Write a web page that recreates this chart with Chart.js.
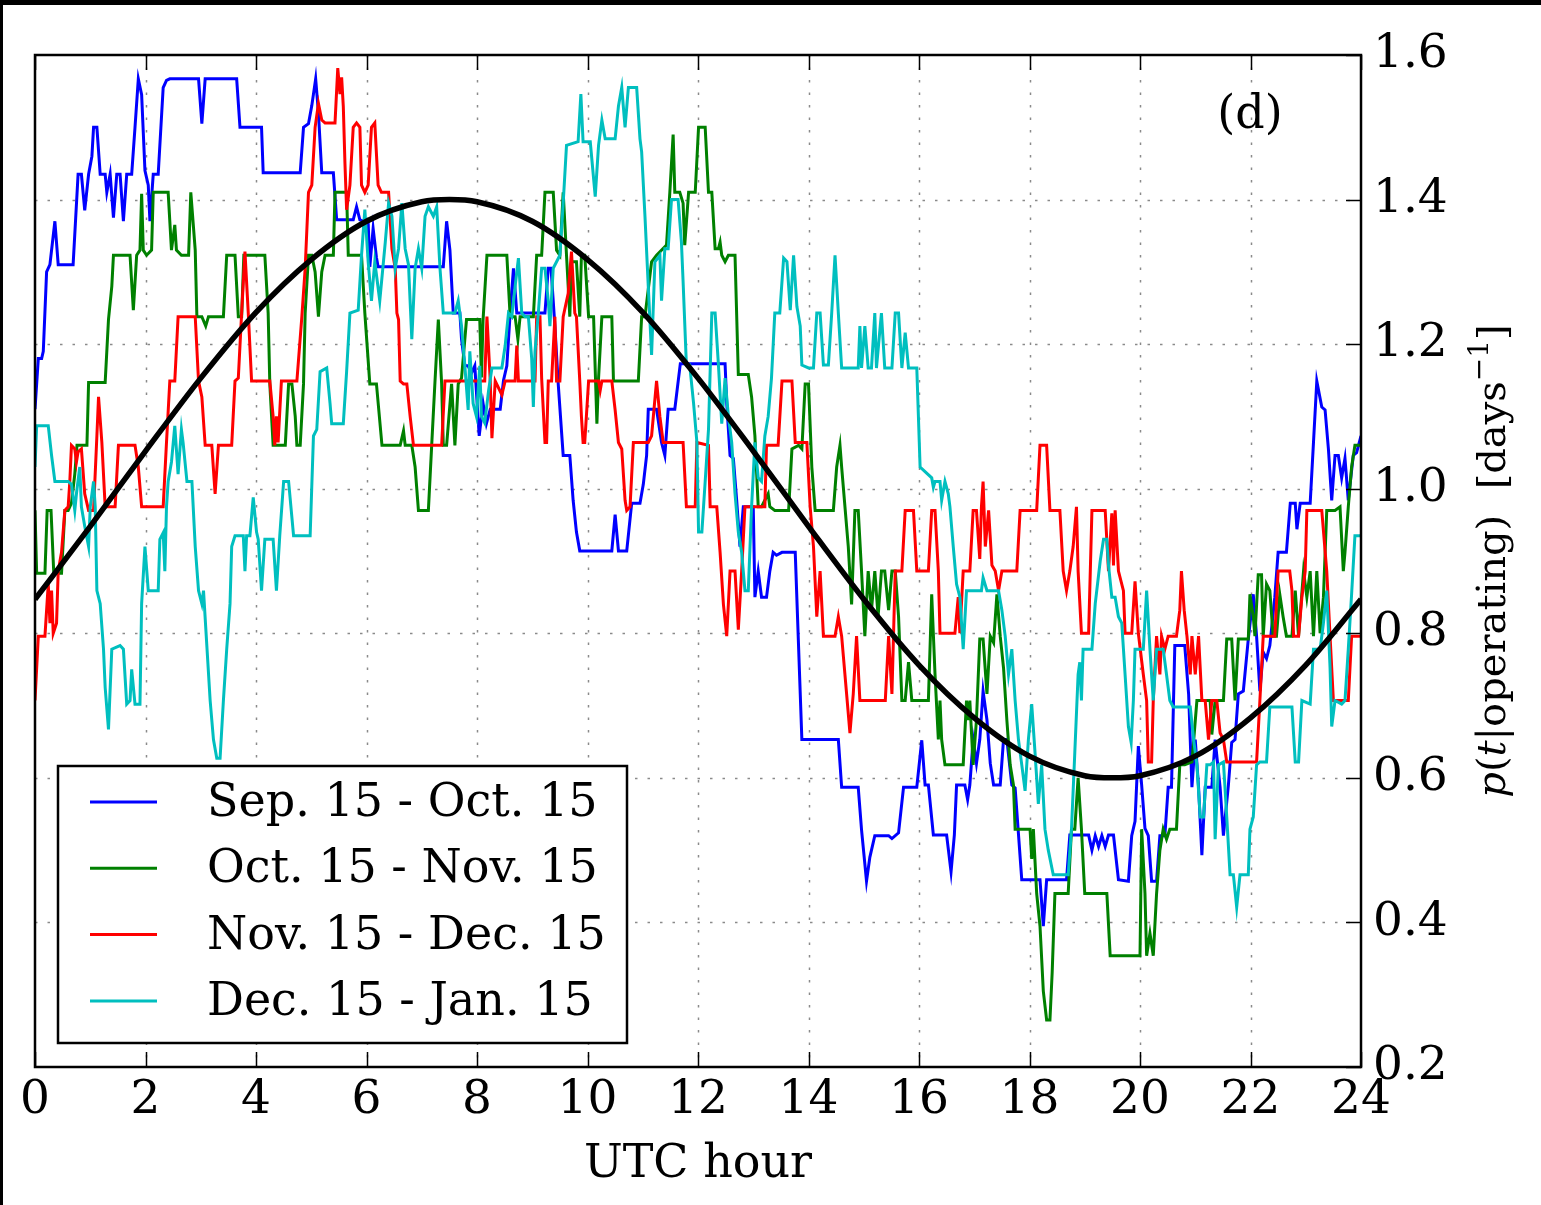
<!DOCTYPE html>
<html>
<head>
<meta charset="utf-8">
<script src="https://cdn.jsdelivr.net/npm/chart.js@4.4.1/dist/chart.umd.min.js"></script>
<style>
  html, body { margin: 0; padding: 0; background: #fff; }
</style>
</head>
<body>
<canvas id="utcChart" width="1541" height="1205"></canvas>
<script>
const hourTicks = [0, 2, 4, 6, 8, 10, 12, 14, 16, 18, 20, 22, 24];
const rateTicks = [0.2, 0.4, 0.6, 0.8, 1.0, 1.2, 1.4, 1.6];
const seriesNames = ['Sep. 15 - Oct. 15', 'Oct. 15 - Nov. 15', 'Nov. 15 - Dec. 15', 'Dec. 15 - Jan. 15'];
const seriesColors = ['#0000ff', '#008000', '#ff0000', '#00bfbf'];

// Sep. 15 - Oct. 15
const sepHours = [0.00,0.06,0.12,0.15,0.21,0.27,0.36,0.42,0.69,0.78,0.84,0.90,0.97,1.03,1.06,1.12,1.18,1.27,1.30,1.36,1.42,1.48,1.54,1.60,1.66,1.75,1.81,1.87,1.93,1.99,2.05,2.08,2.14,2.23,2.32,2.38,2.44,2.96,3.02,3.08,3.65,3.71,
  4.10,4.13,4.80,4.86,4.95,5.01,5.08,5.13,5.19,5.40,5.46,5.76,5.82,5.88,6.03,6.06,6.12,6.18,6.21,7.39,7.45,7.51,7.57,7.69,7.72,7.78,7.84,7.90,7.96,8.04,
  8.11,8.17,8.24,8.42,8.48,8.54,8.60,8.66,8.72,9.23,9.29,9.34,9.41,9.47,9.56,9.68,9.74,9.80,9.86,10.44,10.50,10.56,10.71,10.80,10.95,11.01,11.07,11.10,11.25,11.34,11.40,11.46,11.58,11.68,
  12.49,12.52,12.58,12.64,12.70,12.76,12.82,13.00,13.03,13.09,13.15,13.24,13.30,13.36,13.42,13.52,13.76,13.88,14.54,14.60,14.90,14.96,15.05,15.11,15.20,15.45,15.51,15.63,15.72,15.96,
  16.05,16.11,16.17,16.26,16.50,16.58,16.64,16.68,16.83,16.88,16.92,16.98,17.04,17.10,17.16,17.23,17.29,17.35,17.47,17.53,17.59,17.68,17.74,17.86,18.19,18.25,18.31,18.67,18.73,19.07,19.13,19.19,19.25,19.31,19.37,19.43,19.52,19.61,19.79,19.85,
  19.91,19.97,20.03,20.09,20.15,20.21,20.30,20.36,20.45,20.51,20.57,20.63,20.81,20.88,20.94,21.00,21.06,21.12,21.18,21.30,21.36,21.45,21.51,21.60,21.66,21.72,21.78,21.87,21.96,22.05,22.11,22.17,22.23,22.29,22.35,22.44,22.50,22.65,22.72,22.81,22.84,22.90,23.08,23.14,23.20,23.29,23.35,23.41,23.47,23.53,23.59,23.65,23.71,23.77,23.86,23.92,24.00];
const sepValues = [1.11,1.18,1.18,1.19,1.30,1.31,1.37,1.31,1.31,1.435,1.435,1.385,1.435,1.46,1.50,1.50,1.435,1.435,1.41,1.435,1.375,1.435,1.435,1.37,1.435,1.435,1.50,1.567,1.545,1.44,1.42,1.37,1.435,1.435,1.555,1.565,1.567,1.567,1.505,1.567,1.567,1.50,
  1.50,1.437,1.437,1.50,1.505,1.53,1.567,1.52,1.437,1.437,1.372,1.372,1.39,1.372,1.368,1.307,1.36,1.32,1.307,1.307,1.37,1.33,1.243,1.243,1.207,1.17,1.17,1.16,1.17,1.073,
  1.118,1.09,1.11,1.11,1.15,1.17,1.243,1.305,1.243,1.243,1.305,1.305,1.225,1.145,1.046,1.046,0.984,0.94,0.914,0.914,0.964,0.914,0.914,0.98,0.98,1.006,1.046,1.11,1.11,1.064,1.046,1.11,1.11,1.173,
  1.173,1.118,1.046,1.042,0.984,0.92,0.975,0.975,0.85,0.886,0.85,0.85,0.886,0.912,0.908,0.912,0.912,0.653,0.653,0.587,0.587,0.528,0.457,0.49,0.52,0.52,0.516,0.524,0.587,0.587,
  0.652,0.59,0.59,0.521,0.521,0.47,0.521,0.59,0.59,0.57,0.59,0.653,0.62,0.653,0.72,0.68,0.62,0.59,0.59,0.653,0.653,0.59,0.586,0.459,0.459,0.395,0.459,0.459,0.521,0.521,0.50,0.52,0.505,0.52,0.505,0.521,0.521,0.459,0.457,0.52,
  0.54,0.644,0.59,0.53,0.52,0.457,0.457,0.52,0.52,0.587,0.587,0.783,0.783,0.716,0.587,0.653,0.587,0.493,0.587,0.587,0.653,0.587,0.52,0.59,0.649,0.653,0.716,0.72,0.792,0.854,0.796,0.72,0.774,0.765,0.783,0.85,0.912,0.912,0.98,0.98,0.944,0.98,0.98,1.064,1.149,1.113,1.109,1.055,0.984,1.046,1.046,1.015,1.042,0.984,1.046,1.05,1.073];

// Oct. 15 - Nov. 15
const octHours = [0.00,0.03,0.18,0.22,0.29,0.34,0.48,0.54,0.60,0.66,0.72,0.76,0.94,0.97,1.27,1.33,1.39,1.42,1.72,1.78,1.84,1.90,1.93,1.96,2.02,2.11,2.14,2.41,2.47,2.53,2.56,2.65,2.78,2.82,2.90,2.93,3.02,3.09,3.14,3.41,3.47,3.62,3.68,3.74,3.78,
  4.16,4.22,4.25,4.31,4.53,4.59,4.65,4.71,4.74,4.80,4.86,4.89,4.95,5.01,5.07,5.13,5.19,5.25,5.40,5.43,5.64,5.67,5.91,5.97,6.06,6.18,6.28,6.61,6.67,6.70,6.82,6.88,6.94,7.12,7.18,7.24,7.30,7.36,7.39,7.45,7.54,7.60,7.66,7.72,7.81,
  8.05,8.08,8.11,8.18,8.54,8.60,8.69,8.74,8.78,9.02,9.08,9.17,9.23,9.38,9.44,9.50,9.56,9.62,9.68,9.71,9.80,9.86,9.89,9.95,10.02,10.11,10.17,10.20,10.26,10.44,10.47,10.92,10.98,11.04,11.16,11.25,11.43,11.49,11.55,11.58,11.67,11.73,11.76,11.83,11.95,12.01,
  12.13,12.19,12.25,12.31,12.37,12.40,12.43,12.49,12.55,12.67,12.73,12.91,12.97,13.00,13.03,13.09,13.15,13.21,13.27,13.30,13.39,13.64,13.70,13.82,13.88,13.94,14.00,14.06,14.12,14.45,14.51,14.57,14.60,14.66,14.72,14.78,14.84,14.90,14.96,15.02,15.08,15.14,15.20,15.26,15.32,15.38,15.45,15.51,15.57,15.63,15.69,15.75,15.81,15.87,
  16.17,16.23,16.29,16.35,16.38,16.41,16.47,16.80,16.86,16.89,16.92,16.98,17.04,17.10,17.16,17.23,17.29,17.35,17.41,17.47,17.53,17.59,17.65,17.71,17.74,18.01,18.04,18.07,18.13,18.19,18.25,18.31,18.37,18.41,18.46,18.70,18.76,18.82,18.88,18.94,19.00,19.40,19.46,
  20.00,20.03,20.09,20.12,20.18,20.24,20.30,20.36,20.42,20.48,20.54,20.66,20.72,20.81,20.94,21.03,21.27,21.30,21.36,21.51,21.57,21.66,21.72,21.78,21.96,21.99,22.05,22.08,22.14,22.20,22.23,22.29,22.35,22.41,22.47,22.53,22.59,22.65,22.75,22.81,22.87,22.96,23.02,23.08,23.14,23.20,23.26,23.32,23.38,23.53,23.62,23.68,23.71,23.77,23.83,23.89,24.00];
const octValues = [0.97,0.883,0.883,0.97,0.97,0.883,0.883,0.97,0.97,0.98,1.02,1.06,1.06,1.147,1.147,1.234,1.28,1.323,1.323,1.247,1.323,1.33,1.408,1.33,1.323,1.33,1.41,1.41,1.33,1.365,1.33,1.323,1.323,1.41,1.33,1.238,1.238,1.225,1.238,1.238,1.323,1.323,1.238,1.238,1.323,
  1.323,1.243,1.145,1.06,1.06,1.145,1.145,1.10,1.06,1.06,1.145,1.243,1.323,1.323,1.30,1.238,1.30,1.323,1.323,1.41,1.41,1.323,1.323,1.243,1.145,1.145,1.06,1.06,1.08,1.06,1.06,1.03,0.97,0.97,1.06,1.149,1.234,1.145,1.06,1.06,1.145,1.06,1.145,1.153,1.234,
  1.234,1.154,1.234,1.323,1.323,1.238,1.238,1.207,1.238,1.238,1.323,1.323,1.41,1.41,1.33,1.323,1.41,1.323,1.238,1.314,1.314,1.238,1.323,1.323,1.238,1.238,1.09,1.153,1.238,1.238,1.149,1.149,1.238,1.238,1.314,1.323,1.337,1.41,1.49,1.41,1.41,1.395,1.337,1.41,1.41,1.50,
  1.50,1.41,1.41,1.332,1.332,1.341,1.323,1.314,1.323,1.323,1.158,1.158,1.127,1.10,1.073,0.975,0.975,0.984,0.993,0.975,0.97,0.97,1.055,1.06,1.055,1.145,1.145,1.03,0.97,0.97,1.03,1.06,1.03,0.975,0.92,0.84,0.97,0.97,0.886,0.796,0.886,0.832,0.886,0.823,0.886,0.886,0.832,0.886,0.886,0.823,0.707,0.707,0.76,0.707,
  0.707,0.854,0.743,0.653,0.707,0.653,0.618,0.618,0.707,0.68,0.707,0.618,0.68,0.792,0.792,0.716,0.796,0.787,0.854,0.796,0.752,0.68,0.618,0.59,0.529,0.529,0.488,0.529,0.44,0.395,0.305,0.265,0.265,0.33,0.44,0.44,0.529,0.529,0.60,0.529,0.44,0.44,0.354,
  0.354,0.529,0.44,0.354,0.385,0.354,0.44,0.50,0.529,0.515,0.529,0.529,0.618,0.618,0.622,0.707,0.707,0.66,0.707,0.707,0.792,0.792,0.707,0.792,0.792,0.854,0.823,0.796,0.881,0.881,0.796,0.868,0.859,0.796,0.796,0.854,0.823,0.796,0.796,0.859,0.796,0.886,0.85,0.886,0.796,0.886,0.80,0.85,0.97,0.97,0.975,0.886,0.912,0.975,1.03,1.06,1.06];

// Nov. 15 - Dec. 15
const novHours = [0.00,0.06,0.18,0.24,0.27,0.30,0.33,0.39,0.42,0.48,0.54,0.60,0.63,0.66,0.72,0.75,0.78,0.84,0.90,0.97,1.06,1.12,1.15,1.21,1.27,1.45,1.51,1.81,1.87,1.93,2.32,2.38,2.44,2.53,2.59,2.90,2.96,3.02,3.08,3.20,3.26,3.32,3.56,3.62,3.68,3.74,3.80,3.86,3.92,
  4.25,4.31,4.34,4.37,4.40,4.46,4.74,4.83,4.89,4.95,5.01,5.07,5.13,5.19,5.25,5.43,5.48,5.52,5.55,5.58,5.61,5.64,5.70,5.76,5.82,5.88,5.91,5.97,6.03,6.09,6.15,6.21,6.27,6.40,6.46,6.52,6.55,6.58,6.61,6.67,6.73,6.79,6.85,7.36,7.42,
  8.14,8.18,8.24,8.27,8.33,8.45,8.51,8.69,8.72,8.75,9.05,9.08,9.14,9.17,9.23,9.26,9.29,9.35,9.41,9.44,9.50,9.56,9.65,9.71,9.77,9.80,9.86,9.89,9.92,9.95,10.02,10.20,10.23,10.26,10.44,10.50,10.56,10.62,10.68,10.71,10.77,10.83,11.10,11.16,11.25,11.31,11.37,11.73,11.79,11.95,11.98,
  12.19,12.22,12.34,12.40,12.46,12.52,12.58,12.67,12.73,12.79,12.85,13.21,13.24,13.45,13.52,13.70,13.76,13.97,14.03,14.09,14.15,14.21,14.27,14.48,14.54,14.60,14.69,14.75,14.81,14.87,14.93,15.39,15.45,15.51,15.57,15.69,15.75,15.90,15.96,
  16.17,16.23,16.29,16.35,16.38,16.65,16.71,16.74,16.80,16.92,16.98,17.04,17.10,17.13,17.16,17.20,17.26,17.32,17.38,17.44,17.50,17.77,17.83,18.13,18.19,18.31,18.37,18.55,18.61,18.67,18.73,18.79,18.85,18.88,18.94,19.07,19.13,19.37,19.43,19.49,19.52,19.55,19.61,19.70,19.73,19.85,19.91,19.97,
  20.06,20.12,20.15,20.21,20.24,20.30,20.36,20.39,20.45,20.51,20.66,20.72,20.75,20.80,20.85,20.91,20.94,21.00,21.06,21.12,21.18,21.24,21.30,21.39,21.45,21.51,21.57,22.11,22.17,22.23,22.44,22.50,22.71,22.75,22.78,22.87,22.93,22.99,23.02,23.29,23.38,23.44,23.50,23.77,23.83,24.00];
const novValues = [0.707,0.796,0.796,0.868,0.814,0.859,0.80,0.814,0.886,0.912,0.97,0.975,1.01,1.06,1.055,1.037,1.051,1.055,0.993,0.97,0.97,1.073,1.127,1.064,0.975,0.975,1.06,1.06,1.03,0.975,0.975,1.064,1.149,1.149,1.238,1.238,1.149,1.127,1.06,1.06,0.993,1.06,1.06,1.149,1.153,1.243,1.328,1.243,1.149,
  1.149,1.10,1.06,1.10,1.064,1.149,1.149,1.238,1.305,1.41,1.42,1.50,1.533,1.51,1.506,1.506,1.582,1.546,1.569,1.529,1.45,1.386,1.42,1.50,1.506,1.50,1.42,1.41,1.42,1.50,1.506,1.42,1.41,1.41,1.332,1.305,1.243,1.234,1.149,1.145,1.145,1.10,1.06,1.06,1.149,
  1.149,1.238,1.149,1.07,1.149,1.13,1.149,1.149,1.198,1.149,1.149,1.238,1.238,1.153,1.064,1.064,1.149,1.149,1.238,1.149,1.149,1.238,1.27,1.328,1.243,1.238,1.149,1.10,1.064,1.064,1.149,1.149,1.136,1.149,1.149,1.109,1.064,1.055,0.984,0.97,0.975,1.064,1.064,1.073,1.149,1.10,1.064,1.064,0.975,0.975,1.064,
  1.06,0.975,0.975,0.912,0.84,0.796,0.886,0.886,0.805,0.886,0.975,0.975,1.06,1.06,1.149,1.149,1.064,1.064,0.975,0.92,0.823,0.886,0.796,0.796,0.823,0.796,0.716,0.662,0.716,0.796,0.707,0.707,0.796,0.716,0.886,0.886,0.97,0.97,0.886,
  0.886,0.97,0.97,0.886,0.80,0.80,0.85,0.80,0.886,0.886,0.97,0.97,0.903,0.975,1.01,0.92,0.97,0.894,0.886,0.859,0.886,0.886,0.97,0.97,1.06,1.06,0.97,0.97,0.886,0.859,0.886,0.92,0.975,0.886,0.80,0.80,0.97,0.97,0.886,0.966,0.894,0.97,0.886,0.859,0.80,0.80,0.872,0.80,
  0.743,0.707,0.622,0.622,0.707,0.796,0.743,0.796,0.778,0.796,0.796,0.832,0.886,0.832,0.796,0.743,0.796,0.743,0.796,0.707,0.707,0.653,0.707,0.707,0.662,0.653,0.622,0.622,0.707,0.796,0.796,0.886,0.886,0.859,0.796,0.796,0.85,0.886,0.97,0.97,0.886,0.796,0.707,0.707,0.796,0.796];

// Dec. 15 - Jan. 15
const decHours = [0.00,0.03,0.24,0.30,0.36,0.60,0.66,0.72,0.75,0.81,0.84,0.90,0.97,1.00,1.06,1.09,1.12,1.18,1.24,1.27,1.33,1.39,1.54,1.60,1.66,1.72,1.75,1.81,1.90,1.93,1.99,2.05,2.23,2.26,2.32,2.35,2.38,2.41,2.47,2.53,2.59,2.65,2.68,2.75,2.84,2.90,2.96,3.02,3.05,3.11,3.17,3.23,3.29,3.35,3.41,3.47,3.53,3.56,3.62,3.77,3.80,3.83,3.89,3.95,4.01,
  4.04,4.10,4.16,4.31,4.37,4.43,4.50,4.59,4.68,4.98,5.04,5.10,5.16,5.28,5.34,5.37,5.58,5.64,5.70,5.85,5.91,5.97,6.03,6.09,6.15,6.24,6.34,6.40,6.46,6.52,6.58,6.64,6.70,6.76,6.82,6.88,6.94,7.00,7.06,7.12,7.21,7.27,7.33,7.39,7.60,7.66,7.72,7.78,7.84,7.87,7.93,7.99,
  8.05,8.08,8.14,8.21,8.27,8.45,8.51,8.57,8.63,8.69,8.75,8.81,8.87,8.93,8.99,9.02,9.05,9.11,9.17,9.23,9.29,9.32,9.38,9.44,9.50,9.53,9.56,9.62,9.83,9.88,9.92,10.05,10.14,10.20,10.26,10.32,10.50,10.56,10.62,10.68,10.74,10.89,10.95,10.98,11.04,11.10,11.16,11.22,11.31,11.34,11.40,11.46,11.52,11.64,11.70,11.73,11.79,11.85,11.92,11.98,12.01,
  12.07,12.13,12.19,12.25,12.31,12.37,12.43,12.49,12.55,12.61,12.67,12.73,12.79,12.85,12.91,12.97,13.03,13.09,13.15,13.21,13.27,13.33,13.39,13.48,13.55,13.61,13.67,13.73,13.79,13.85,13.88,14.00,14.09,14.15,14.21,14.27,14.36,14.42,14.48,14.54,14.60,14.90,14.93,14.96,15.02,15.08,15.14,15.20,15.23,15.32,15.38,15.51,15.57,15.63,15.69,15.75,15.81,15.96,16.02,
  16.23,16.26,16.29,16.38,16.41,16.47,16.53,16.56,16.62,16.68,16.74,16.80,16.86,17.13,17.16,17.23,17.44,17.50,17.56,17.62,17.68,17.74,17.80,17.86,17.92,17.98,18.04,18.10,18.16,18.22,18.28,18.34,18.43,18.70,18.76,18.82,18.88,18.91,18.94,18.97,19.13,19.19,19.28,19.34,19.40,19.43,19.49,19.55,19.61,19.67,19.73,19.79,19.84,19.88,19.91,20.00,
  20.06,20.12,20.18,20.24,20.30,20.42,20.48,20.54,20.60,20.91,20.97,21.03,21.09,21.15,21.21,21.27,21.33,21.36,21.42,21.51,21.57,21.63,21.69,21.75,21.81,21.96,21.99,22.05,22.11,22.17,22.29,22.35,22.75,22.81,22.87,22.93,23.08,23.14,23.26,23.32,23.38,23.44,23.47,23.53,23.65,23.71,23.77,23.83,23.89,24.00];
const decValues = [1.03,1.087,1.087,1.046,1.01,1.01,1.006,0.97,0.993,1.03,0.975,0.948,0.92,0.975,1.01,0.975,0.859,0.841,0.778,0.725,0.667,0.778,0.783,0.778,0.702,0.707,0.75,0.702,0.702,0.841,0.92,0.859,0.859,0.93,0.939,0.886,0.975,1.01,1.037,1.087,1.02,1.082,1.064,1.01,1.01,0.92,0.859,0.841,0.859,0.783,0.707,0.653,0.627,0.627,0.707,0.778,0.841,0.92,0.935,0.935,0.886,0.935,0.935,0.988,0.94,
  0.93,0.859,0.93,0.93,0.859,0.935,1.01,1.01,0.935,0.935,1.073,1.082,1.162,1.167,1.118,1.09,1.09,1.162,1.243,1.247,1.323,1.386,1.314,1.26,1.314,1.26,1.341,1.395,1.377,1.305,1.332,1.395,1.332,1.31,1.207,1.305,1.332,1.305,1.377,1.39,1.377,1.39,1.305,1.243,1.243,1.26,1.225,1.17,1.109,1.19,1.118,1.10,
  1.17,1.10,1.091,1.136,1.167,1.167,1.198,1.243,1.238,1.28,1.319,1.243,1.238,1.238,1.18,1.113,1.19,1.243,1.305,1.305,1.26,1.225,1.305,1.314,1.323,1.359,1.395,1.475,1.48,1.546,1.48,1.48,1.404,1.475,1.51,1.484,1.484,1.529,1.555,1.50,1.555,1.555,1.484,1.466,1.377,1.28,1.185,1.314,1.323,1.26,1.332,1.332,1.40,1.40,1.341,1.287,1.171,1.171,1.118,1.064,0.94,
  0.94,1.01,1.082,1.243,1.243,1.171,1.09,1.153,1.10,1.064,0.993,0.94,0.912,0.859,0.859,0.975,1.064,1.015,1.01,1.073,1.10,1.153,1.243,1.243,1.319,1.314,1.247,1.323,1.252,1.225,1.171,1.167,1.167,1.243,1.243,1.171,1.171,1.243,1.323,1.243,1.167,1.167,1.225,1.167,1.225,1.167,1.167,1.243,1.167,1.243,1.167,1.167,1.243,1.243,1.167,1.216,1.167,1.167,1.03,
  1.015,1.002,1.01,1.01,0.984,1.01,0.993,0.975,0.92,0.868,0.85,0.778,0.859,0.859,0.877,0.859,0.859,0.832,0.796,0.743,0.778,0.707,0.653,0.618,0.582,0.653,0.702,0.635,0.564,0.618,0.529,0.50,0.466,0.466,0.529,0.635,0.743,0.76,0.707,0.778,0.778,0.841,0.90,0.93,0.93,0.894,0.85,0.85,0.823,0.814,0.743,0.671,0.649,0.707,0.778,0.778,
  0.778,0.859,0.778,0.707,0.778,0.778,0.743,0.707,0.698,0.698,0.653,0.618,0.546,0.546,0.618,0.618,0.622,0.515,0.618,0.622,0.546,0.466,0.466,0.421,0.466,0.466,0.529,0.546,0.618,0.622,0.622,0.698,0.698,0.622,0.622,0.707,0.702,0.778,0.778,0.814,0.859,0.752,0.671,0.707,0.702,0.707,0.778,0.854,0.935,0.935];

// fitted daily cycle (black curve)
const fitHours = [0, 1, 2, 3, 4, 5, 6, 7, 7.5, 8, 9, 10, 11, 12, 13, 14, 15, 16, 17, 18, 19, 19.5, 20, 21, 22, 23, 24];
const fitValues = [0.847, 0.948, 1.052, 1.153, 1.244, 1.317, 1.370, 1.397, 1.400, 1.397, 1.370, 1.317, 1.244, 1.153, 1.052, 0.948, 0.847, 0.756, 0.683, 0.630, 0.603, 0.600, 0.603, 0.630, 0.683, 0.756, 0.847];

const serifFont = "'DejaVu Serif', 'Liberation Serif', serif";

function toPoints(hours, values) {
    return hours.map(function (h, i) {
        return { x: h, y: values[i] };
    });
}

const seriesHours = [sepHours, octHours, novHours, decHours];
const seriesValues = [sepValues, octValues, novValues, decValues];

const datasets = seriesNames.map(function (name, i) {
    return {
        label: name,
        data: toPoints(seriesHours[i], seriesValues[i]),
        borderColor: seriesColors[i],
        borderWidth: 3,
        pointRadius: 0,
        tension: 0,
        order: 4 - i,
    };
});
datasets.push({
    label: 'fit',
    data: toPoints(fitHours, fitValues),
    borderColor: '#000000',
    borderWidth: 5.5,
    pointRadius: 0,
    cubicInterpolationMode: 'monotone',
    order: 0,
});

// frame, dotted grid, inside ticks, legend box, panel tag and the right-hand label
const paperPlugin = {
    id: 'paper',
    beforeDraw(chart) {
        const ctx = chart.ctx;
        ctx.save();
        ctx.fillStyle = '#ffffff';
        ctx.fillRect(0, 0, chart.width, chart.height);
        ctx.fillStyle = '#000000';
        ctx.fillRect(0, 0, chart.width, 5);
        ctx.fillRect(0, 0, 3, chart.height);
        ctx.restore();
    },
    beforeDatasetsDraw(chart) {
        const ctx = chart.ctx;
        const area = chart.chartArea;
        const xs = chart.scales.x;
        const ys = chart.scales.y;
        ctx.save();
        ctx.strokeStyle = '#8a8a8a';
        ctx.lineWidth = 1.5;
        ctx.setLineDash([2.5, 10]);
        hourTicks.slice(1, -1).forEach(function (h) {
            const px = Math.round(xs.getPixelForValue(h)) + 0.5;
            ctx.beginPath();
            ctx.moveTo(px, area.top);
            ctx.lineTo(px, area.bottom);
            ctx.stroke();
        });
        rateTicks.slice(1, -1).forEach(function (v) {
            const py = Math.round(ys.getPixelForValue(v)) + 0.5;
            ctx.beginPath();
            ctx.moveTo(area.left, py);
            ctx.lineTo(area.right, py);
            ctx.stroke();
        });
        ctx.restore();
    },
    afterDatasetsDraw(chart) {
        const ctx = chart.ctx;
        const area = chart.chartArea;
        const xs = chart.scales.x;
        const ys = chart.scales.y;
        ctx.save();

        // inside tick marks
        ctx.strokeStyle = '#000000';
        ctx.lineWidth = 1.5;
        hourTicks.forEach(function (h) {
            const px = Math.round(xs.getPixelForValue(h)) + 0.5;
            ctx.beginPath();
            ctx.moveTo(px, area.top);
            ctx.lineTo(px, area.top + 15);
            ctx.moveTo(px, area.bottom);
            ctx.lineTo(px, area.bottom - 15);
            ctx.stroke();
        });
        rateTicks.forEach(function (v) {
            const py = Math.round(ys.getPixelForValue(v)) + 0.5;
            ctx.beginPath();
            ctx.moveTo(area.right, py);
            ctx.lineTo(area.right - 15, py);
            ctx.stroke();
        });

        // plot frame
        ctx.lineWidth = 2.5;
        ctx.strokeRect(area.left, area.top, area.right - area.left, area.bottom - area.top);

        // legend
        const box = { left: 58, top: 766, right: 627, bottom: 1043 };
        ctx.fillStyle = '#ffffff';
        ctx.fillRect(box.left, box.top, box.right - box.left, box.bottom - box.top);
        ctx.lineWidth = 2.5;
        ctx.strokeStyle = '#000000';
        ctx.strokeRect(box.left, box.top, box.right - box.left, box.bottom - box.top);
        ctx.font = '46px ' + serifFont;
        ctx.textAlign = 'left';
        ctx.textBaseline = 'middle';
        seriesNames.forEach(function (name, i) {
            const rowY = 802 + i * 66.3;
            ctx.strokeStyle = seriesColors[i];
            ctx.lineWidth = 3;
            ctx.beginPath();
            ctx.moveTo(90, rowY);
            ctx.lineTo(157, rowY);
            ctx.stroke();
            ctx.fillStyle = '#000000';
            ctx.fillText(name, 207, rowY + 2);
        });

        // panel tag
        ctx.textAlign = 'center';
        ctx.fillText('(d)', 1250, 116);

        // y title on the right, rotated
        const pieces = [
            { t: 'p', f: 'italic 40px ' + serifFont, dy: 0 },
            { t: '(', f: '40px ' + serifFont, dy: 0 },
            { t: 't', f: 'italic 40px ' + serifFont, dy: 0 },
            { t: '|operating)  [days', f: '40px ' + serifFont, dy: 0 },
            { t: '\u22121', f: '28px ' + serifFont, dy: -17 },
            { t: ']', f: '40px ' + serifFont, dy: 0 },
        ];
        let total = 0;
        pieces.forEach(function (p) {
            ctx.font = p.f;
            p.w = ctx.measureText(p.t).width;
            total += p.w;
        });
        ctx.translate(1505, (area.top + area.bottom) / 2);
        ctx.rotate(-Math.PI / 2);
        ctx.textAlign = 'left';
        ctx.textBaseline = 'alphabetic';
        let cx = -total / 2;
        pieces.forEach(function (p) {
            ctx.font = p.f;
            ctx.fillText(p.t, cx, p.dy);
            cx += p.w;
        });
        ctx.restore();
    },
};

new Chart(document.getElementById('utcChart'), {
    type: 'line',
    data: { datasets: datasets },
    options: {
        responsive: false,
        animation: false,
        layout: { padding: { left: 35, top: 55, right: 0, bottom: 0 } },
        scales: {
            x: {
                type: 'linear',
                min: 0,
                max: 24,
                grid: { display: false, drawTicks: false },
                border: { display: false },
                ticks: {
                    stepSize: 2,
                    autoSkip: false,
                    maxRotation: 0,
                    padding: 6,
                    color: '#000000',
                    font: { family: serifFont, size: 47 },
                },
                title: {
                    display: true,
                    text: 'UTC hour',
                    color: '#000000',
                    font: { family: serifFont, size: 46 },
                    padding: { top: 0, bottom: 12 },
                },
                afterFit: function (scale) { scale.height = 138; },
            },
            y: {
                position: 'right',
                min: 0.2,
                max: 1.6,
                grid: { display: false, drawTicks: false },
                border: { display: false },
                ticks: {
                    stepSize: 0.2,
                    padding: 12,
                    color: '#000000',
                    font: { family: serifFont, size: 47 },
                    callback: function (value) { return Number(value).toFixed(1); },
                },
                afterFit: function (scale) { scale.width = 180; },
            },
        },
        plugins: {
            legend: { display: false },
            tooltip: { enabled: false },
        },
    },
    plugins: [paperPlugin],
});
</script>
</body>
</html>
